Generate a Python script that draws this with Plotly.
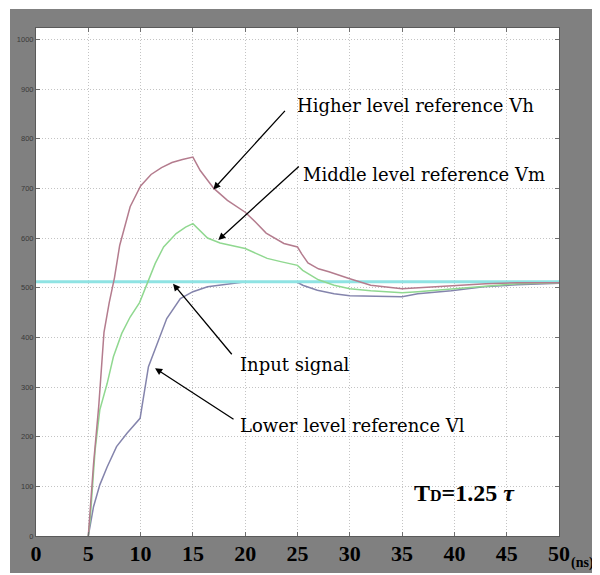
import plotly.graph_objects as go

# ---- data (time in ns, value in ADC codes) ----
t_vh = [5, 5.5, 6, 6.5, 7, 7.5, 8, 9, 10, 11, 12, 13, 14, 15, 15.7, 17, 18.3, 20, 21, 22, 23.7, 25,
        25.4, 26, 27, 28, 30, 32, 35, 38, 40, 43, 46, 50]
v_vh = [0, 145, 262, 410, 470, 520, 585, 663, 705, 728, 742, 752, 758, 763, 736, 700, 676, 652, 632, 610, 589, 582,
        568, 550, 538, 532, 518, 505, 498, 502, 505, 508, 510, 510]

t_vm = [5, 5.2, 5.65, 6.1, 6.8, 7.4, 8.2, 9, 9.9, 10.6, 11.4, 12.2, 13.4, 14.3, 15, 16.4, 17.6, 20, 21, 22.1,
        23.5, 25, 25.5, 27, 28.5, 30, 32, 35, 36.5, 38, 40, 43, 46, 50]
v_vm = [0, 39, 173, 254, 307, 361, 408, 441, 470, 508, 549, 582, 609, 622, 629, 600, 590, 579, 570, 559,
        552, 545, 535, 516, 505, 498, 494, 490, 492, 495, 498, 503, 508, 510]

t_vl = [5, 5.5, 6.1, 6.8, 7.7, 8.7, 9.95, 10.4, 10.75, 11.55, 12.5, 13.8, 15, 16.4, 18.3, 19.7, 25, 25.5,
        26.9, 28.5, 30, 35, 36.5, 38, 39.7, 42.8, 46, 50]
v_vl = [0, 59, 103, 139, 180, 207, 237, 294, 341, 385, 438, 478, 492, 502, 508, 511, 511, 505,
        495, 488, 484, 482, 488, 491, 494, 502, 506, 509]

t_in = [0, 50]
v_in = [512, 512]

x_ticks = [0, 5, 10, 15, 20, 25, 30, 35, 40, 45, 50]
y_ticks = [0, 100, 200, 300, 400, 500, 600, 700, 800, 900, 1000]

# ---- figure geometry (the page body adds an 8px margin, so work in screen px minus 8) ----
OFF = 8
W, H = 600 - OFF, 575 - OFF
PL, PR, PT, PB = 36, 559, 28, 536          # plot area in screen pixels
L, T = PL - OFF, PT - OFF
R, B = W - (PR - OFF), H - (PB - OFF)
pw, ph = W - L - R, H - T - B

def px2paper(x, y):
    # screen pixel -> paper coordinates
    return (x - OFF - L) / pw, (H - B - (y - OFF)) / ph

fig = go.Figure()
fig.add_trace(go.Scatter(x=t_vl, y=v_vl, mode="lines", line=dict(color="#8484ac", width=1.5)))
fig.add_trace(go.Scatter(x=t_in, y=v_in, mode="lines", line=dict(color="#8fe3e3", width=3)))
fig.add_trace(go.Scatter(x=t_vm, y=v_vm, mode="lines", line=dict(color="#90d890", width=1.5)))
fig.add_trace(go.Scatter(x=t_vh, y=v_vh, mode="lines", line=dict(color="#b47c8e", width=1.5)))

# background: gray frame, white plot area
gx0, gy0 = px2paper(10, 573)
gx1, gy1 = px2paper(600, 9)
shapes = [
    dict(type="rect", xref="paper", yref="paper", x0=gx0, x1=gx1, y0=gy0, y1=gy1,
         fillcolor="#808080", line=dict(width=0), layer="below"),
    dict(type="rect", xref="paper", yref="paper", x0=0, x1=1, y0=0, y1=1,
         fillcolor="white", line=dict(width=0), layer="below"),
]

annots = []
arrow_style = dict(showarrow=True, arrowhead=2, arrowsize=1.1, arrowwidth=1.3, arrowcolor="black",
                   text="", xref="x", yref="y", axref="pixel", ayref="pixel")
# arrows: tip in data coords, tail as pixel offsets
annots.append(dict(x=16.95, y=698, ax=73, ay=-80, **arrow_style))
annots.append(dict(x=17.43, y=596, ax=82, ay=-75, **arrow_style))
annots.append(dict(x=13.1, y=508, ax=60, ay=72, **arrow_style))
annots.append(dict(x=11.38, y=338, ax=80, ay=52, **arrow_style))

txt_font = dict(family="DejaVu Serif", size=18, color="black")
def label(text, xpx, ypx):
    px, py = px2paper(xpx, ypx)
    return dict(text=text, xref="paper", yref="paper", x=px, y=py, xanchor="left", yanchor="middle",
                showarrow=False, font=txt_font)

annots.append(label("Higher level reference Vh", 295, 106))
annots.append(label("Middle level reference Vm", 301, 174))
annots.append(label("Input signal", 238, 365))
annots.append(label("Lower level reference Vl", 238, 425))

tx, ty = px2paper(412, 493)
annots.append(dict(text="<b>T<span style='font-size:16px'>D</span>=1.25 <i>τ</i></b>", xref="paper", yref="paper",
                   x=tx, y=ty, xanchor="left", yanchor="middle", showarrow=False,
                   font=dict(family="Liberation Serif", size=24, color="black")))
nx, ny = px2paper(569, 563)
annots.append(dict(text="<b>(ns)</b>", xref="paper", yref="paper", x=nx, y=ny, xanchor="left", yanchor="middle",
                   showarrow=False, font=dict(family="Liberation Serif", size=14, color="black")))

fig.update_layout(
    width=W, height=H, margin=dict(l=L, r=R, t=T, b=B, autoexpand=False),
    paper_bgcolor="white", plot_bgcolor="rgba(0,0,0,0)",
    showlegend=False, shapes=shapes, annotations=annots,
)
fig.update_xaxes(range=[0, 50], tickvals=x_ticks, ticktext=[str(v) for v in x_ticks],
                 showgrid=True, gridcolor="#c4c4c4", griddash="1px,2px", gridwidth=1,
                 showline=True, mirror="ticks", linecolor="#5a5a5a", linewidth=1,
                 ticks="inside", ticklen=4, tickcolor="#707070", zeroline=False, automargin=False,
                 tickfont=dict(family="Liberation Serif", size=22, color="black", weight="bold"),
                 ticklabelstandoff=-2)
fig.update_yaxes(range=[0, 1023], tickvals=y_ticks, ticktext=[str(v) for v in y_ticks],
                 showgrid=True, gridcolor="#c4c4c4", griddash="1px,2px", gridwidth=1,
                 showline=True, mirror="ticks", linecolor="#5a5a5a", linewidth=1,
                 ticks="inside", ticklen=4, tickcolor="#707070", zeroline=False, automargin=False,
                 tickfont=dict(family="Liberation Sans", size=7.5, color="#3a3a3a"))

fig.write_html("out.html")
